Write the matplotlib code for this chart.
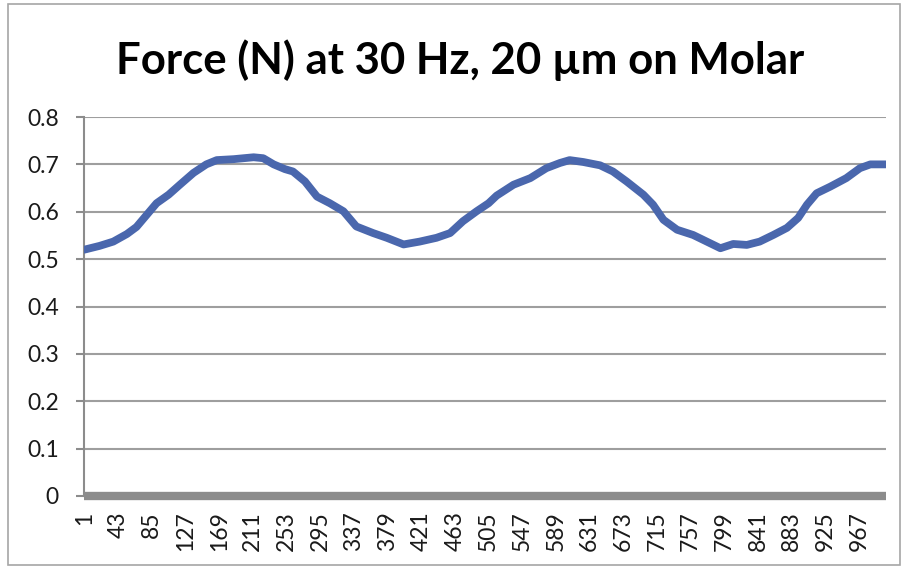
import matplotlib.pyplot as plt
from matplotlib.patches import Rectangle

# values (sample index, force in N)
sample = [1, 20, 37, 54, 66, 79, 91, 106, 120, 137, 153, 166, 187, 212, 224, 237,
          251, 261, 276, 291, 307, 324, 340, 361, 378, 399, 419, 440, 457, 473,
          490, 505, 515, 536, 557, 577, 594, 606, 623, 644, 660, 677, 698, 710,
          723, 740, 760, 777, 794, 810, 827, 843, 860, 877, 891, 902, 914, 931,
          951, 968, 981, 1000]
force = [0.520, 0.528, 0.537, 0.553, 0.568, 0.594, 0.618, 0.636, 0.657, 0.682,
         0.700, 0.709, 0.711, 0.715, 0.713, 0.700, 0.690, 0.685, 0.664, 0.632,
         0.618, 0.601, 0.569, 0.555, 0.545, 0.531, 0.537, 0.545, 0.555, 0.580,
         0.601, 0.618, 0.634, 0.657, 0.671, 0.692, 0.703, 0.709, 0.705, 0.698,
         0.685, 0.664, 0.636, 0.615, 0.583, 0.562, 0.551, 0.537, 0.523, 0.532,
         0.530, 0.537, 0.551, 0.566, 0.587, 0.615, 0.639, 0.653, 0.671, 0.692,
         0.700, 0.700]
zero_x = [1, 1000]
zero_y = [0, 0]
xtick_pos = list(range(1, 1000, 42))
ytick_pos = [0, 0.1, 0.2, 0.3, 0.4, 0.5, 0.6, 0.7, 0.8]
ytick_lab = ['0', '0.1', '0.2', '0.3', '0.4', '0.5', '0.6', '0.7', '0.8']
title = 'Force (N) at 30 Hz, 20 \u00b5m on Molar'

plt.rcParams['font.family'] = ['Lato', 'DejaVu Sans']

fig = plt.figure(figsize=(9.04, 5.69), dpi=100)
fig.patches.append(Rectangle((8 / 904, 4 / 569), 892 / 904, 561 / 569,
                             transform=fig.transFigure, fill=False,
                             edgecolor='#A6A6A6', lw=1.2))

ax = fig.add_axes([84 / 904, 1 - 496 / 569, 802 / 904, 379 / 569])

# grey zero series drawn as a thick band
ax.plot(zero_x, zero_y, color='#8C8C8C', lw=6, solid_capstyle='butt',
        clip_on=False, zorder=3)
ax.plot(sample, force, color='#4A67AD', lw=5.6, solid_capstyle='round',
        solid_joinstyle='round', zorder=4)

ax.set_xlim(0.5, 1000.5)
ax.set_ylim(0, 0.8)
ax.set_yticks(ytick_pos)
ax.set_yticklabels(ytick_lab)
ax.set_xticks(xtick_pos)
ax.set_xticklabels([str(v) for v in xtick_pos], rotation=90)

ax.grid(axis='y', color='#9E9E9E', lw=1.5)
ax.set_axisbelow(True)
for s in ['top', 'right', 'bottom']:
    ax.spines[s].set_visible(False)
ax.spines['left'].set_color('#8C8C8C')
ax.spines['left'].set_linewidth(1.5)

ax.tick_params(axis='y', length=6, width=1.5, color='#8C8C8C',
               labelsize=16.5, labelcolor='#1a1a1a', pad=12)
ax.tick_params(axis='x', length=0, labelsize=16.5, labelcolor='#1a1a1a', pad=11)

fig.text(0.509, 0.895, title, ha='center', va='center',
         fontsize=31.5, fontweight='bold', color='black')

fig.savefig('out.png', dpi=100)
